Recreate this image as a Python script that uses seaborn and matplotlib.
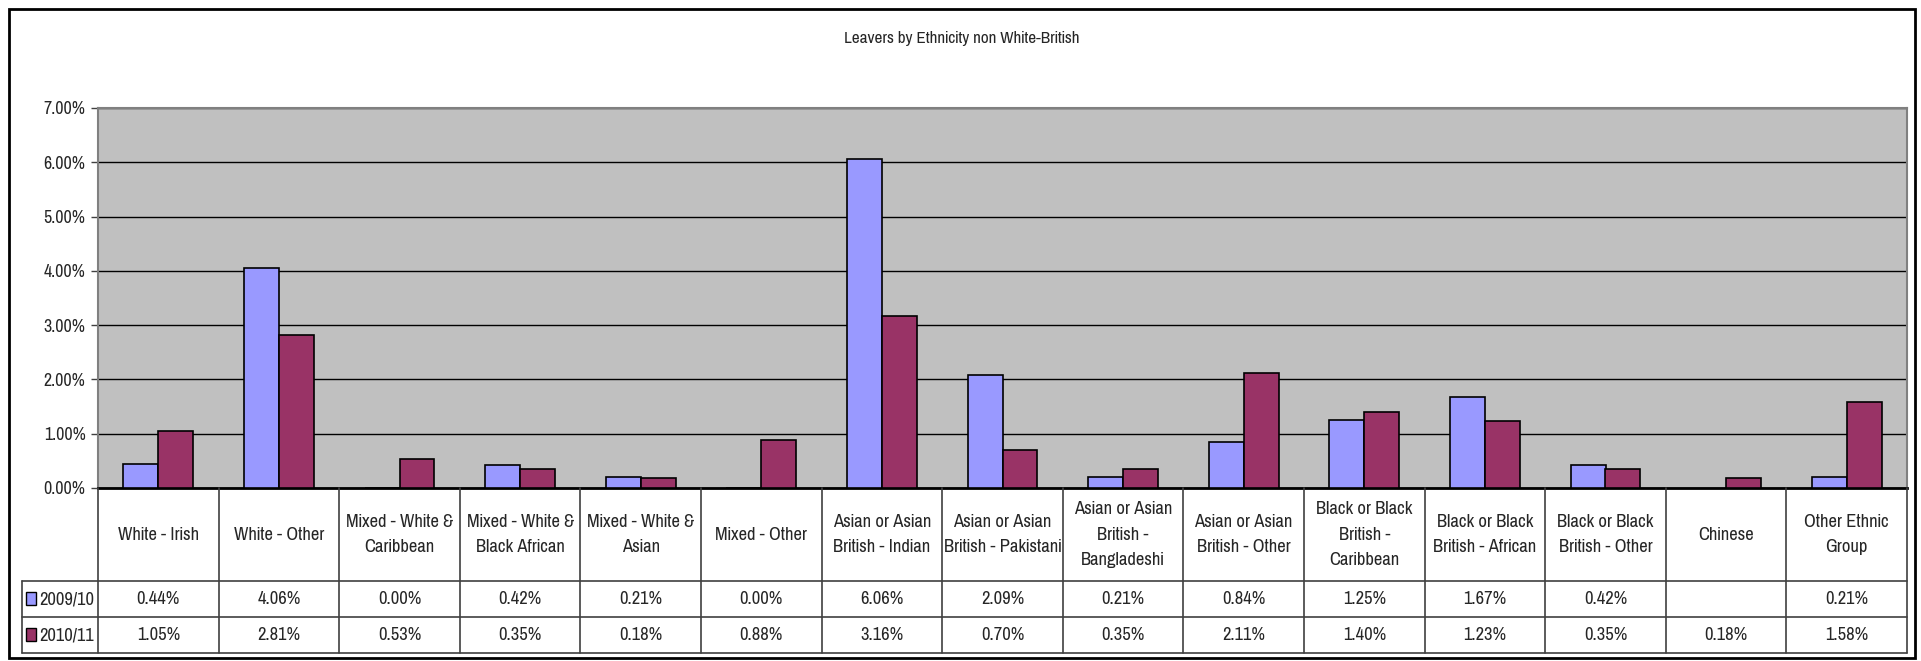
import numpy as np
import pandas as pd
import seaborn as sns
import matplotlib
matplotlib.use("Agg")
import matplotlib.pyplot as plt
from matplotlib import font_manager, transforms
from matplotlib.patches import Rectangle
from matplotlib.lines import Line2D

# ---- data -------------------------------------------------------------
categories = [
    "White - Irish", "White - Other", "Mixed - White &\nCaribbean",
    "Mixed - White &\nBlack African", "Mixed - White &\nAsian", "Mixed - Other",
    "Asian or Asian\nBritish - Indian", "Asian or Asian\nBritish - Pakistani",
    "Asian or Asian\nBritish -\nBangladeshi", "Asian or Asian\nBritish - Other",
    "Black or Black\nBritish -\nCaribbean", "Black or Black\nBritish - African",
    "Black or Black\nBritish - Other", "Chinese", "Other Ethnic\nGroup",
]
series_names = ["2009/10", "2010/11"]
values_0910 = [0.44, 4.06, 0.00, 0.42, 0.21, 0.00, 6.06, 2.09, 0.21, 0.84,
               1.25, 1.67, 0.42, np.nan, 0.21]
values_1011 = [1.05, 2.81, 0.53, 0.35, 0.18, 0.88, 3.16, 0.70, 0.35, 2.11,
               1.40, 1.23, 0.35, 0.18, 1.58]
y_ticks = [0, 1, 2, 3, 4, 5, 6, 7]
title = "Leavers by Ethnicity non White-British"

colors = ["#9999FF", "#993366"]

# ---- fonts: prefer a narrow sans ------------------------------------
available = {f.name for f in font_manager.fontManager.ttflist}
preferred = ["Liberation Sans Narrow", "Arial Narrow", "Pragati Narrow",
             "Archivo Narrow", "Roboto Condensed", "PT Sans Narrow",
             "Open Sans Condensed", "IBM Plex Sans Condensed", "Liberation Sans"]
narrow = next((f for f in preferred if f in available), "DejaVu Sans")

sns.set_style("white")
plt.rcParams["font.family"] = [narrow, "DejaVu Sans"]

FS = 14.5

W, H = 1921, 661
fig = plt.figure(figsize=(W / 100, H / 100), dpi=100)
fig.patch.set_facecolor("white")

def fx(px):
    return px / W

def fy(py):
    return 1 - py / H

# plot area in pixel coordinates
L, R, T, B = 98, 1907, 108, 488
ax = fig.add_axes([fx(L), fy(B), fx(R) - fx(L), fy(T) - fy(B)])

df = pd.DataFrame({
    "category": categories * 2,
    "year": [series_names[0]] * len(categories) + [series_names[1]] * len(categories),
    "value": values_0910 + values_1011,
})

sns.barplot(data=df, x="category", y="value", hue="year", order=categories,
            hue_order=series_names, palette=colors, saturation=1, width=0.58,
            gap=0, edgecolor="black", linewidth=1.2, ax=ax, legend=False,
            errorbar=None, zorder=3)

ax.set_facecolor("#C0C0C0")
ax.set_xlim(-0.5, len(categories) - 0.5)
ax.set_ylim(0, 7)
ax.set_yticks(y_ticks)
ax.set_yticklabels([f"{v:.2f}%" for v in y_ticks], fontsize=14)
ax.yaxis.grid(True, color="black", linewidth=1.0, zorder=0)
ax.set_axisbelow(True)
ax.set_xticks([])
ax.set_xlabel("")
ax.set_ylabel("")
ax.tick_params(axis="y", which="both", left=True, length=5, width=1,
               color="#404040", pad=4)
for side in ["top", "right", "left"]:
    ax.spines[side].set_color("#808080")
    ax.spines[side].set_linewidth(1.5)
ax.spines["bottom"].set_color("black")
ax.spines["bottom"].set_linewidth(2)

# ---- data table below the plot ---------------------------------------
xt = transforms.blended_transform_factory(ax.transData, fig.transFigure)
row_label_bottom = 581
row1_bottom = 617
row2_bottom = 653
legend_left = 22
n = len(categories)

def vline(xd, y0, y1, lw=1.2, color="#404040"):
    fig.add_artist(Line2D([xd, xd], [fy(y0), fy(y1)], transform=xt,
                          color=color, linewidth=lw))

def hline(x0, x1, y, lw=1.2, color="#404040"):
    fig.add_artist(Line2D([fx(x0), fx(x1)], [fy(y), fy(y)],
                          transform=fig.transFigure, color=color, linewidth=lw))

for i in range(n + 1):
    vline(i - 0.5, B, row2_bottom)
hline(legend_left, R, row_label_bottom)
hline(legend_left, R, row1_bottom)
hline(legend_left, R, row2_bottom)
fig.add_artist(Line2D([fx(legend_left)] * 2, [fy(row_label_bottom), fy(row2_bottom)],
                      transform=fig.transFigure, color="#404040", linewidth=1.2))

for i, cat in enumerate(categories):
    fig.text(i, fy((B + row_label_bottom) / 2), cat, transform=xt,
             ha="center", va="center", fontsize=FS, linespacing=1.7)

rows = [(values_0910, row_label_bottom, row1_bottom),
        (values_1011, row1_bottom, row2_bottom)]
for (vals, y0, y1), name, col in zip(rows, series_names, colors):
    yc = fy((y0 + y1) / 2)
    for i, v in enumerate(vals):
        if not np.isnan(v):
            fig.text(i, yc, f"{v:.2f}%", transform=xt, ha="center", va="center",
                     fontsize=FS)
    fig.add_artist(Rectangle((fx(legend_left + 4), yc - 6 / H), 10 / W, 13 / H,
                             transform=fig.transFigure, facecolor=col,
                             edgecolor="black", linewidth=1))
    fig.text(fx(legend_left + 17), yc, name, ha="left", va="center", fontsize=FS)

# ---- title and chart frame -------------------------------------------
fig.text(fx(962), fy(39), title, ha="center", va="center", fontsize=13.4)
fig.add_artist(Rectangle((fx(9), fy(658)), fx(1915) - fx(9), fy(9) - fy(658),
                         transform=fig.transFigure, fill=False,
                         edgecolor="black", linewidth=2))

fig.savefig("out.png", dpi=100)
